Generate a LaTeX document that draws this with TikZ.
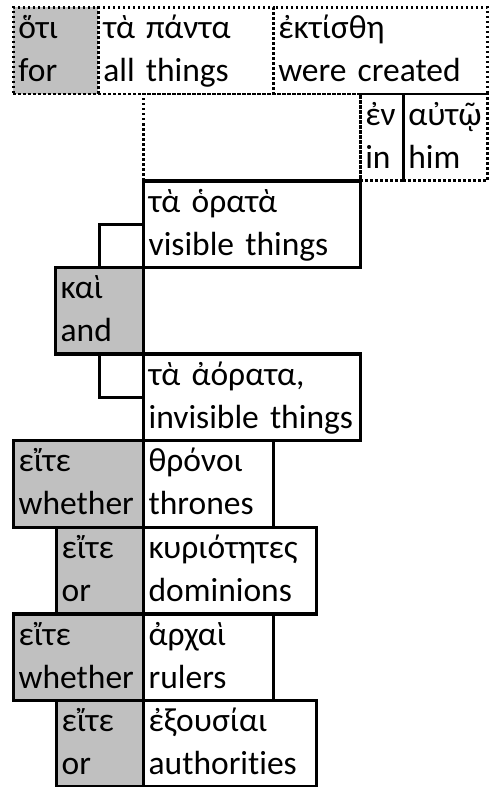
\documentclass[tikz,border=0pt]{standalone}
\usepackage{fontspec}
\setmainfont{Carlito}[Ligatures={NoCommon}]
\usepackage{tikz}
\usetikzlibrary{positioning}
\definecolor{connective}{RGB}{192,192,192}

\begin{document}
\begin{tikzpicture}[x=1pt, y=-1pt,
    word/.style={draw, line width=3.3pt, anchor=north west, inner xsep=5pt, inner ysep=0pt, minimum height=86.6pt, text height=27pt, text depth=51pt, align=left, font=\fontsize{33.5}{43}\selectfont},
    conj/.style={word, fill=connective},
    clause/.style={word, line width=2.6pt, dash pattern=on 2.2pt off 2.8pt}
]
    \useasboundingbox (0,0) rectangle (488,787);

    % Main clause (dotted)
    \node[clause, fill=connective, text width=75pt] (hoti) at (12,6) {ὅτι\\for};
    \node[clause, text width=165pt] (tapanta) at (97,6) {τὰ πάντα\\all things};
    \node[clause, text width=204pt] (ektisthe) at (272,6) {ἐκτίσθη\\were created};
    \node[clause, text width=207pt] (slot) at (142,92.6) {};
    \node[clause, text width=33pt] (en) at (359,92.6) {ἐν\\in};
    \node[clause, text width=74pt] (auto) at (402,92.6) {αὐτῷ\\him};

    % Compound object
    \node[word, text width=207pt] (horata) at (142,179.2) {τὰ ὁρατὰ\\visible things};
    \node[conj, text width=78pt] (kai) at (54,265.8) {καὶ\\and};
    \node[word, text width=207pt] (ahorata) at (142,352.4) {τὰ ἀόρατα,\\\mbox{invisible things}};
    \draw[line width=3.3pt] (horata.west) -| (kai.north);
    \draw[line width=3.3pt] (kai.south) |- (ahorata.west);

    % Series with eite
    \node[conj, text width=120pt] (eiteA) at (12,439) {εἴτε\\whether};
    \node[word, text width=120pt] (thronoi) at (142,439) {θρόνοι\\thrones};
    \node[conj, text width=77pt] (eiteB) at (55,525.6) {εἴτε\\or};
    \node[word, text width=163pt] (kuriotetes) at (142,525.6) {κυριότητες\\dominions};
    \node[conj, text width=120pt] (eiteC) at (12,612.2) {εἴτε\\whether};
    \node[word, text width=120pt] (archai) at (142,612.2) {ἀρχαὶ\\rulers};
    \node[conj, text width=77pt] (eiteD) at (55,698.8) {εἴτε\\or};
    \node[word, text width=163pt] (exousiai) at (142,698.8) {ἐξουσίαι\\authorities};

\end{tikzpicture}
\end{document}
